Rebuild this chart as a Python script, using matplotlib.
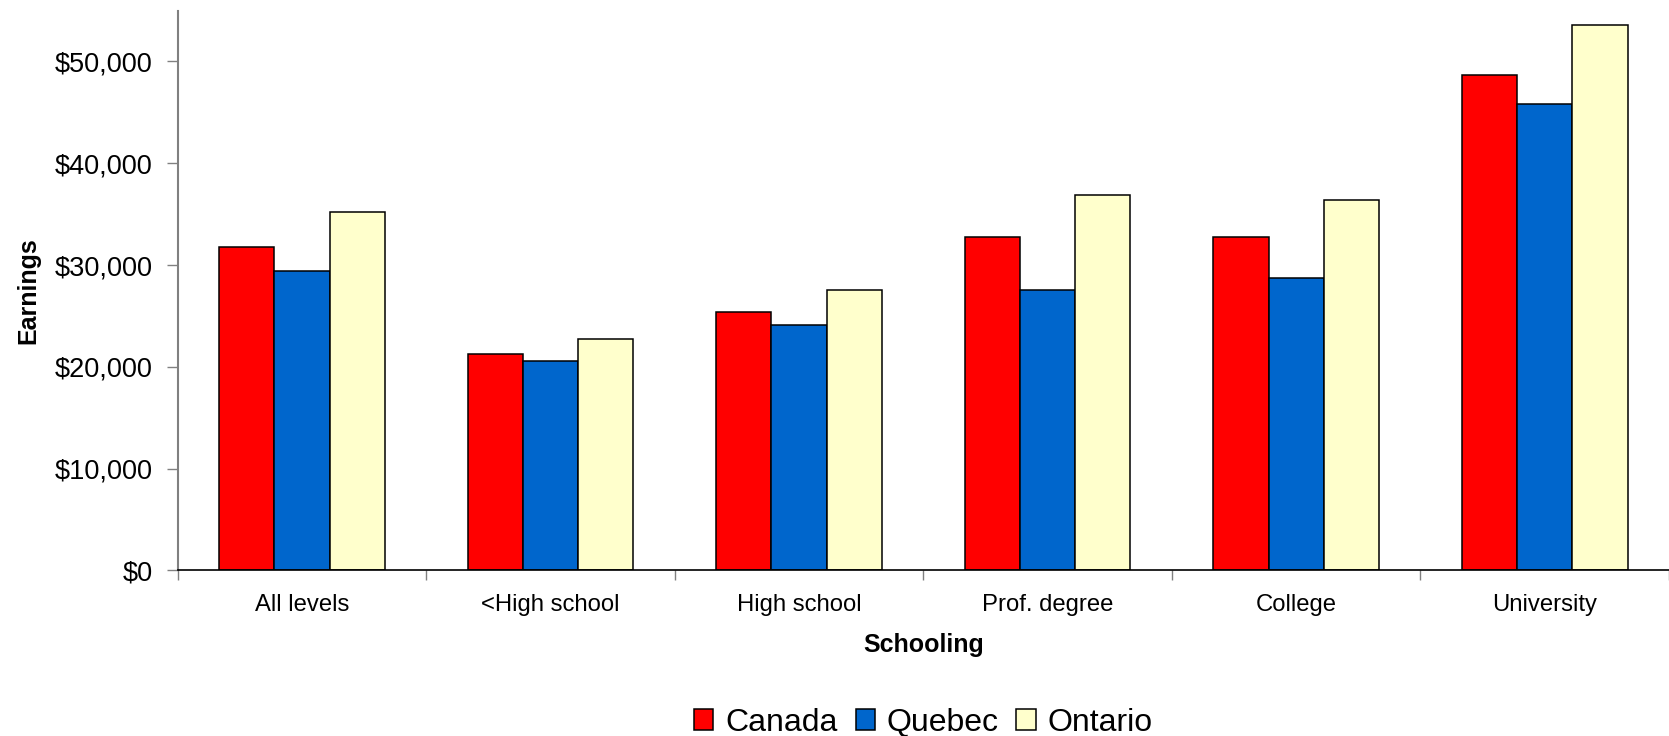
import numpy as np
import matplotlib.pyplot as plt
from matplotlib.ticker import FuncFormatter, FixedLocator, NullFormatter

plt.rcParams['font.family'] = ['Liberation Sans', 'DejaVu Sans']

levels = ['All levels', '<High school', 'High school', 'Prof. degree', 'College', 'University']
canada = [31750, 21300, 25400, 32750, 32750, 48700]
quebec = [29450, 20600, 24100, 27550, 28700, 45850]
ontario = [35200, 22700, 27550, 36900, 36400, 53550]

series = [('Canada', canada, '#FF0000'),
          ('Quebec', quebec, '#0066CC'),
          ('Ontario', ontario, '#FFFFCC')]

fig = plt.figure(figsize=(16.69, 7.36), dpi=100)
ax = fig.add_axes([0.1065, 0.2249, 0.8935, 0.7607])

x = np.arange(len(levels))
w = 1 / 4.5
for i, (name, vals, col) in enumerate(series):
    ax.bar(x + (i - 1) * w, vals, width=w, color=col, edgecolor='black',
           linewidth=1.1, label=name)

ax.set_xlim(-0.5, len(levels) - 0.5)
ax.set_ylim(0, 55000)
ax.set_yticks(np.arange(0, 50001, 10000))
ax.yaxis.set_major_formatter(FuncFormatter(lambda v, p: '${:,.0f}'.format(v)))

# category boundaries get the tick marks, names sit between them
ax.xaxis.set_major_locator(FixedLocator(np.arange(-0.5, len(levels), 1.0)))
ax.xaxis.set_major_formatter(NullFormatter())
ax.xaxis.set_minor_locator(FixedLocator(x))
ax.set_xticklabels(levels, minor=True)
ax.tick_params(axis='x', which='major', length=7, width=1, color='#808080', direction='out')
ax.tick_params(axis='x', which='minor', length=0, pad=17, labelsize=17.2)
ax.tick_params(axis='y', length=8, width=1, color='#808080', direction='out',
               pad=10, labelsize=19.5)

for s in ['top', 'right']:
    ax.spines[s].set_visible(False)
ax.spines['left'].set_color('#808080')
ax.spines['left'].set_linewidth(1.5)
ax.spines['bottom'].set_color('black')
ax.spines['bottom'].set_linewidth(1.2)

ax.set_ylabel('Earnings', fontsize=18, fontweight='bold', labelpad=10)
ax.set_xlabel('Schooling', fontsize=18, fontweight='bold', labelpad=12)

ax.legend(loc='center', bbox_to_anchor=(0.5, -0.272), ncol=3, frameon=False,
          fontsize=23, handlelength=0.6, handleheight=0.6, handletextpad=0.37,
          columnspacing=0.56)

fig.savefig('out.png', dpi=100)
